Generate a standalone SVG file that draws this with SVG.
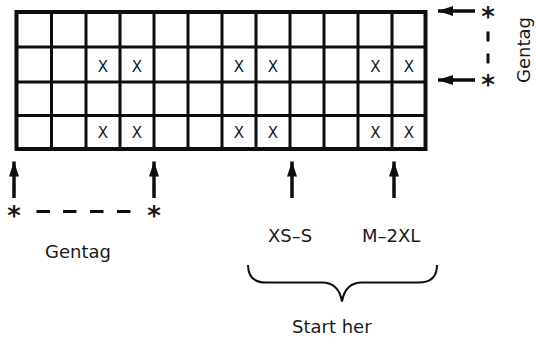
<svg xmlns="http://www.w3.org/2000/svg" width="536" height="347" viewBox="0 0 536 347">
<style>
.t{font-family:"DejaVu Sans","Liberation Sans",sans-serif;fill:#1a1a1a}
.lbl{font-size:18px}
.x{font-size:15px;text-anchor:middle}
.ast{font-size:26px;font-weight:bold;text-anchor:middle}
.in{stroke:#0d0d12;stroke-width:3;fill:none}
.out{stroke:#0d0d12;stroke-width:4;fill:none}
.sh{stroke:#0d0d12;stroke-width:3.5;fill:none}
.hd{fill:#0d0d12;stroke:none}
.dash{stroke:#0d0d12;stroke-width:3}
.brace{stroke:#0d0d12;stroke-width:2;fill:none}
</style>
<defs>
<marker id="ah" markerWidth="16" markerHeight="12" refX="15" refY="5" orient="auto" markerUnits="userSpaceOnUse" viewBox="0 0 16 10">
<path d="M0,0 L15,5 L0,10 Z" fill="#0d0d12"/>
</marker>
</defs>
<g id="grid">
<path class="in" d="M51.5,12V149M86,12V149M120,12V149M154,12V149M188,12V149M222,12V149M256,12V149M290,12V149M324,12V149M358,12V149M392,12V149M16.5,47H425.5M16.5,82H425.5M16.5,115.5H425.5"/>
<rect class="out" x="16.5" y="12" width="409" height="137"/>
<g class="t x">
<text x="103" y="71.5">X</text><text x="137" y="71.5">X</text>
<text x="239" y="71.5">X</text><text x="273" y="71.5">X</text>
<text x="375.5" y="71.5">X</text><text x="409" y="71.5">X</text>
<text x="103" y="138">X</text><text x="137" y="138">X</text>
<text x="239" y="138">X</text><text x="273" y="138">X</text>
<text x="375.5" y="138">X</text><text x="409" y="138">X</text>
</g>
</g>
<g id="connectors">
<line class="sh" x1="475" y1="11" x2="438" y2="11" marker-end="url(#ah)"/>
<line class="sh" x1="475" y1="80" x2="438" y2="80" marker-end="url(#ah)"/>
<line class="sh" x1="14" y1="198" x2="14" y2="161.5" marker-end="url(#ah)"/>
<line class="sh" x1="154" y1="198" x2="154" y2="161.5" marker-end="url(#ah)"/>
<line class="sh" x1="292" y1="198" x2="292" y2="161.5" marker-end="url(#ah)"/>
<line class="sh" x1="394" y1="198" x2="394" y2="161.5" marker-end="url(#ah)"/>
<path class="dash" d="M488,31.5V41.5M488,53.5V63.5M36.5,211.5H50M63,211.5H76.5M90,211.5H103.5M117,211.5H130.5"/>
<path class="brace" d="M248,265C248,276 254,282.5 266,282.5H322C334,282.5 340,290 342,301.5C344,290 350,282.5 362,282.5H419C431,282.5 437,276 437,265"/>
</g>
<g id="repeat-right">
<text class="t ast" x="488" y="26">*</text>
<text class="t ast" x="488" y="94">*</text>
<text class="t lbl" transform="translate(530,83) rotate(-90)">Gentag</text>
</g>
<g id="repeat-bottom">
<text class="t ast" x="14" y="225">*</text>
<text class="t ast" x="154" y="225">*</text>
<text class="t lbl" x="45" y="258">Gentag</text>
</g>
<g id="sizes">
<text class="t lbl" x="268" y="241.5">XS–S</text>
<text class="t lbl" x="362" y="241.5">M–2XL</text>
</g>
<g id="start">
<text class="t lbl" x="292" y="333">Start her</text>
</g>
</svg>
